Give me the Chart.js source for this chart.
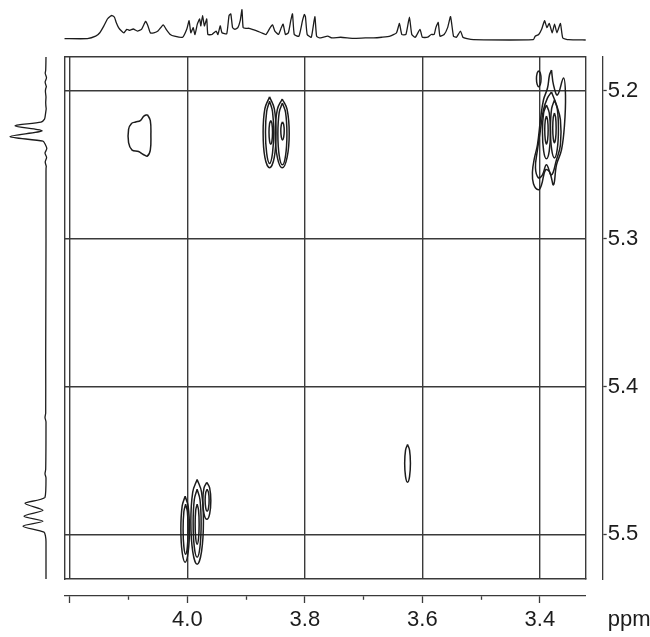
<!DOCTYPE html>
<html>
<head>
<meta charset="utf-8">
<script src="https://cdn.jsdelivr.net/npm/chart.js@4"></script>
<style>
  body { margin: 0; background: #fff; }
  #wrap { position: relative; width: 650px; height: 637px; }
  #wrap canvas { position: absolute; left: 0; top: 0; }
</style>
</head>
<body>
<div id="wrap">
  <canvas id="main" width="650" height="637"></canvas>
  <canvas id="topSpec" width="650" height="57"></canvas>
  <canvas id="leftSpec" width="64" height="637"></canvas>
</div>
<script>
// axis ranges (ppm)
const xMin = 3.322, xMax = 4.2087;
const yMin = 5.177, yMax = 5.5303;

const xGridValues = [4.2, 4.0, 3.8, 3.6, 3.4];
const xTickValues = [4.2, 4.1, 4.0, 3.9, 3.8, 3.7, 3.6, 3.5, 3.4];
const xTickLabels = ['', '', '4.0', '', '3.8', '', '3.6', '', '3.4'];
const xMinorTicks = [4.1, 3.9, 3.7, 3.5];
const yTickValues = [5.2, 5.3, 5.4, 5.5];
const yTickLabels = ['5.2', '5.3', '5.4', '5.5'];
const axisUnit = 'ppm';

// 1D projection on top (ppm, intensity)
const topPpm = [4.209, 4.170, 4.156, 4.149, 4.142, 4.136, 4.131, 4.128, 4.124, 4.121, 4.117, 4.112, 4.108, 4.103, 4.098, 4.092,
  4.085, 4.078, 4.071, 4.067, 4.063, 4.057, 4.050, 4.041, 4.036, 4.029, 4.022, 4.008, 4.001, 3.997, 3.994, 3.990,
  3.987, 3.983, 3.979, 3.977, 3.974, 3.971, 3.967, 3.965, 3.958, 3.951, 3.948, 3.944, 3.941, 3.933, 3.929, 3.926,
  3.923, 3.919, 3.914, 3.910, 3.907, 3.905, 3.900, 3.895, 3.888, 3.881, 3.874, 3.866, 3.859, 3.855, 3.851, 3.845,
  3.840, 3.837, 3.833, 3.828, 3.824, 3.821, 3.818, 3.810, 3.804, 3.801, 3.799, 3.796, 3.789, 3.783, 3.780, 3.775,
  3.761, 3.754, 3.739, 3.718, 3.697, 3.683, 3.669, 3.655, 3.644, 3.639, 3.635, 3.628, 3.622, 3.618, 3.612, 3.604,
  3.600, 3.591, 3.585, 3.580, 3.577, 3.573, 3.570, 3.563, 3.557, 3.552, 3.547, 3.542, 3.535, 3.531, 3.524, 3.513,
  3.411, 3.408, 3.402, 3.397, 3.392, 3.388, 3.384, 3.379, 3.375, 3.371, 3.365, 3.361, 3.351, 3.322];
const topIntensity = [4, 4, 11, 21, 41, 61, 69, 71, 66, 51, 36, 26, 21, 31, 28, 32,
  26, 31, 54, 41, 21, 21, 26, 44, 31, 16, 11, 8, 31, 56, 21, 36,
  16, 46, 61, 41, 71, 41, 61, 16, 16, 26, 16, 41, 21, 18, 71, 76,
  36, 31, 36, 56, 88, 36, 34, 34, 30, 26, 21, 16, 36, 44, 26, 16,
  36, 46, 16, 21, 56, 76, 16, 11, 56, 74, 68, 16, 8, 68, 11, 6,
  11, 6, 8, 5, 6, 6, 8, 11, 21, 48, 16, 16, 66, 16, 8, 31,
  8, 8, 16, 16, 36, 51, 11, 16, 36, 68, 11, 8, 26, 8, 4, 1,
  1, 11, 16, 31, 56, 36, 48, 21, 46, 21, 48, 6, 1, 0];

// 1D projection on the left (ppm, intensity)
const leftPpm = [5.177, 5.186, 5.188, 5.191, 5.194, 5.197, 5.200, 5.204, 5.208, 5.212, 5.216, 5.219, 5.221, 5.2236,
  5.227, 5.2309, 5.234, 5.236, 5.239, 5.242, 5.245, 5.248, 5.251, 5.254, 5.300, 5.380, 5.418, 5.421, 5.424,
  5.456, 5.459, 5.462, 5.475, 5.4791, 5.4838, 5.4878, 5.4912, 5.4946, 5.4986, 5.5014, 5.505, 5.5303];
const leftIntensity = [0, 0.3, 0.8, -0.5, 0.9, -0.4, 0.6, 0, 0.3, -0.2, 0.6, 1.5, 5, 31,
  4, 36, 3, 0.8, -0.8, 1, -0.6, 0.8, -0.3, 0, 0, 0.3, 0.3, 1, 0,
  0.3, 1, 0, 1, 21, 3, 22, 3, 23, 2, 0.5, 0, 0];

// contour rings (ppm x, ppm y)
const peakA = [[4.068, 5.216], [4.063, 5.220], [4.062, 5.230], [4.063, 5.240], [4.068, 5.244], [4.075, 5.243], [4.083, 5.241],
  [4.094, 5.240], [4.100, 5.235], [4.100, 5.226], [4.095, 5.222], [4.088, 5.221], [4.080, 5.220], [4.074, 5.217]];

const peakB = [
  [[3.860, 5.204], [3.852, 5.212], [3.849, 5.228], [3.852, 5.245], [3.860, 5.252], [3.868, 5.245], [3.871, 5.228], [3.868, 5.212]],
  [[3.860, 5.207], [3.855, 5.214], [3.853, 5.228], [3.855, 5.242], [3.860, 5.249], [3.865, 5.242], [3.867, 5.228], [3.865, 5.214]],
  [[3.858, 5.220], [3.856, 5.222], [3.855, 5.228], [3.856, 5.234], [3.858, 5.236], [3.860, 5.234], [3.861, 5.228], [3.860, 5.222]],
  [[3.8385, 5.2054], [3.8302, 5.2124], [3.8266, 5.2287], [3.8302, 5.2450], [3.8385, 5.2520], [3.8468, 5.2450], [3.8504, 5.2287], [3.8468, 5.2124]],
  [[3.8382, 5.2082], [3.8328, 5.2145], [3.8305, 5.2291], [3.8328, 5.2437], [3.8382, 5.2500], [3.8436, 5.2437], [3.8459, 5.2291], [3.8436, 5.2145]],
  [[3.838, 5.2209], [3.836, 5.2227], [3.8351, 5.227], [3.836, 5.2313], [3.838, 5.2331], [3.840, 5.2313], [3.8409, 5.227], [3.840, 5.2227]]
];

const peakC = [
  [[3.4019, 5.1863], [3.3992, 5.1879], [3.3980, 5.1917], [3.3992, 5.1955], [3.4019, 5.1971], [3.4046, 5.1955], [3.4058, 5.1917], [3.4046, 5.1879]],
  [[3.3802, 5.1858], [3.3768, 5.1959], [3.3700, 5.2027], [3.3598, 5.1912], [3.3564, 5.2027], [3.3581, 5.2230], [3.3632, 5.2399],
   [3.3717, 5.2500], [3.3768, 5.2635], [3.3836, 5.2547], [3.3904, 5.2534], [3.3972, 5.2635], [3.4024, 5.2669], [3.4109, 5.2628],
   [3.4126, 5.2547], [3.4092, 5.2453], [3.4041, 5.2365], [3.3990, 5.2196], [3.3939, 5.2061], [3.3870, 5.1980], [3.3836, 5.1892]],
  [[3.3802, 5.2007], [3.3717, 5.2095], [3.3650, 5.2196], [3.3650, 5.2365], [3.3717, 5.2466], [3.3802, 5.2568], [3.3888, 5.2500],
   [3.3956, 5.2568], [3.4024, 5.2588], [3.4075, 5.2520], [3.4041, 5.2399], [3.3990, 5.2264], [3.3939, 5.2128], [3.3870, 5.2047]],
  [[3.3888, 5.2095], [3.3840, 5.2149], [3.3820, 5.2277], [3.3840, 5.2405], [3.3888, 5.2459], [3.3936, 5.2405], [3.3956, 5.2277], [3.3936, 5.2149]],
  [[3.3752, 5.2061], [3.3704, 5.2120], [3.3684, 5.2257], [3.3704, 5.2394], [3.3752, 5.2453], [3.3800, 5.2394], [3.3820, 5.2257], [3.3800, 5.2120]],
  [[3.3888, 5.2169], [3.3868, 5.2198], [3.3859, 5.2264], [3.3868, 5.2330], [3.3888, 5.2359], [3.3908, 5.2330], [3.3917, 5.2264], [3.3908, 5.2198]],
  [[3.3752, 5.2149], [3.3732, 5.2179], [3.3723, 5.2250], [3.3732, 5.2321], [3.3752, 5.2351], [3.3772, 5.2321], [3.3781, 5.2250], [3.3772, 5.2179]]
];

const peakD = [[3.6252, 5.4392], [3.6218, 5.4430], [3.6203, 5.4520], [3.6218, 5.4610], [3.6252, 5.4648], [3.6286, 5.4610], [3.6301, 5.4520], [3.6286, 5.4430]];

const peakE = [
  [[4.0037, 5.4743], [3.9986, 5.4810], [3.9964, 5.4966], [3.9986, 5.5122], [4.0037, 5.5189], [4.0088, 5.5122], [4.0110, 5.4966], [4.0088, 5.4810]],
  [[4.0029, 5.4797], [3.9999, 5.4848], [3.9986, 5.4966], [3.9999, 5.5084], [4.0029, 5.5135], [4.0059, 5.5084], [4.0072, 5.4966], [4.0059, 5.4848]],
  [[3.9833, 5.4629], [3.9758, 5.4715], [3.9726, 5.4916], [3.9758, 5.5117], [3.9833, 5.5203], [3.9908, 5.5117], [3.9940, 5.4916], [3.9908, 5.4715]],
  [[3.9833, 5.4696], [3.9785, 5.4765], [3.9765, 5.4926], [3.9785, 5.5087], [3.9833, 5.5156], [3.9881, 5.5087], [3.9901, 5.4926], [3.9881, 5.4765]],
  [[3.9833, 5.4797], [3.9809, 5.4837], [3.9799, 5.4932], [3.9809, 5.5027], [3.9833, 5.5067], [3.9857, 5.5027], [3.9867, 5.4932], [3.9857, 5.4837]],
  [[3.9668, 5.4649], [3.9620, 5.4686], [3.9600, 5.4774], [3.9620, 5.4862], [3.9668, 5.4899], [3.9716, 5.4862], [3.9736, 5.4774], [3.9716, 5.4686]],
  [[3.9663, 5.4696], [3.9639, 5.4718], [3.9629, 5.4770], [3.9639, 5.4822], [3.9663, 5.4844], [3.9687, 5.4822], [3.9697, 5.4770], [3.9687, 5.4718]]
];

const FONT = '"Liberation Sans", Arial, sans-serif';
Chart.defaults.font.family = FONT;
Chart.defaults.animation = false;

const ink = '#1c1c1c';
const gridInk = '#3a3a3a';
const gridW = 1.4;

const setTicks = values => scale => { scale.ticks = values.map(v => ({ value: v })); };
const isMinor = v => xMinorTicks.some(m => Math.abs(m - v) < 1e-6);

const rings = [peakA, ...peakB, ...peakC, peakD, ...peakE];
const contourSets = rings.map(r => ({
  data: r.concat([r[0]]).map(p => ({ x: p[0], y: p[1] })),
  borderColor: ink,
  borderWidth: 1.5,
  pointRadius: 0,
  tension: 0.4,
  fill: false
}));

const unitLabel = {
  id: 'unitLabel',
  afterDraw(chart) {
    const s = chart.scales.x2;
    const ctx = chart.ctx;
    const it = (s._labelItems || []).find(l => l.label);
    let y = s.top + 14, base = 'top';
    if (it) { y = it.options.translation[1] + it.textOffset; base = it.options.textBaseline || 'middle'; }
    ctx.save();
    ctx.font = '22px ' + FONT;
    ctx.fillStyle = ink;
    ctx.textAlign = 'left';
    ctx.textBaseline = base;
    ctx.fillText(axisUnit, s.right + 22, y);
    ctx.restore();
  }
};

new Chart(document.getElementById('main'), {
  type: 'line',
  data: { datasets: contourSets },
  options: {
    responsive: false,
    devicePixelRatio: 1,
    layout: { padding: { left: 64.7, top: 57, right: 0, bottom: 0 } },
    plugins: { legend: { display: false }, tooltip: { enabled: false } },
    scales: {
      x: {
        type: 'linear', reverse: true, min: xMin, max: xMax, position: 'bottom', weight: 0,
        afterBuildTicks: setTicks(xGridValues),
        afterFit: s => { s.height = 17; },
        ticks: { display: false },
        grid: { color: gridInk, lineWidth: gridW, tickLength: 17, tickColor: 'rgba(0,0,0,0)' },
        border: { color: gridInk, width: gridW }
      },
      x2: {
        type: 'linear', reverse: true, min: xMin, max: xMax, position: 'bottom', weight: 1,
        afterBuildTicks: setTicks(xTickValues),
        afterFit: s => { s.height = 41; },
        ticks: {
          autoSkip: false, maxRotation: 0, minRotation: 0, padding: 4, color: ink,
          font: { size: 22 },
          callback: (v, i) => xTickLabels[i]
        },
        grid: {
          drawOnChartArea: false, tickLength: 7, tickColor: gridInk, tickWidth: 1.3,
          tickBorderDash: c => (c.tick && isMinor(c.tick.value)) ? [3.5, 40] : []
        },
        border: { color: gridInk, width: 1.3 }
      },
      xt: {
        type: 'linear', reverse: true, min: xMin, max: xMax, position: 'top',
        afterBuildTicks: setTicks(xGridValues),
        afterFit: s => { s.height = 0; },
        ticks: { display: false },
        grid: { drawOnChartArea: false, drawTicks: false },
        border: { color: gridInk, width: gridW }
      },
      y: {
        type: 'linear', reverse: true, min: yMin, max: yMax, position: 'right', weight: 0,
        afterBuildTicks: setTicks(yTickValues),
        afterFit: s => { s.width = 17; },
        ticks: { display: false },
        grid: { color: gridInk, lineWidth: gridW, tickLength: 17, tickColor: 'rgba(0,0,0,0)' },
        border: { color: gridInk, width: gridW }
      },
      y2: {
        type: 'linear', reverse: true, min: yMin, max: yMax, position: 'right', weight: 1,
        afterBuildTicks: setTicks(yTickValues),
        afterFit: s => { s.width = 47.3; },
        ticks: { padding: 1, color: ink, font: { size: 22 }, callback: (v, i) => yTickLabels[i] },
        grid: { drawOnChartArea: false, tickLength: 4, tickColor: gridInk, tickWidth: 1.3 },
        border: { color: gridInk, width: 1.3 }
      },
      yl: {
        type: 'linear', reverse: true, min: yMin, max: yMax, position: 'left',
        afterBuildTicks: setTicks(yTickValues),
        afterFit: s => { s.width = 0; },
        ticks: { display: false },
        grid: { drawOnChartArea: false, drawTicks: false },
        border: { color: gridInk, width: gridW }
      }
    }
  },
  plugins: [unitLabel]
});

new Chart(document.getElementById('topSpec'), {
  type: 'line',
  data: {
    datasets: [{
      data: topPpm.map((x, i) => ({ x, y: topIntensity[i] })),
      borderColor: ink, borderWidth: 1.3, pointRadius: 0, tension: 0.15, fill: false, clip: false
    }]
  },
  options: {
    responsive: false,
    devicePixelRatio: 1,
    layout: { padding: { left: 64.7, right: 64.3, top: 9, bottom: 17 } },
    plugins: { legend: { display: false }, tooltip: { enabled: false } },
    scales: {
      x: { type: 'linear', reverse: true, min: xMin, max: xMax, display: false },
      y: { type: 'linear', min: 0, max: 90, display: false }
    }
  }
});

new Chart(document.getElementById('leftSpec'), {
  type: 'line',
  data: {
    datasets: [{
      data: leftPpm.map((y, i) => ({ x: leftIntensity[i], y })),
      borderColor: ink, borderWidth: 1.3, pointRadius: 0, tension: 0.25, fill: false, clip: false
    }]
  },
  options: {
    responsive: false,
    devicePixelRatio: 1,
    layout: { padding: { left: 10, right: 18, top: 57, bottom: 58 } },
    plugins: { legend: { display: false }, tooltip: { enabled: false } },
    scales: {
      x: { type: 'linear', reverse: true, min: 0, max: 36, display: false },
      y: { type: 'linear', reverse: true, min: yMin, max: yMax, display: false }
    }
  }
});
</script>
</body>
</html>
